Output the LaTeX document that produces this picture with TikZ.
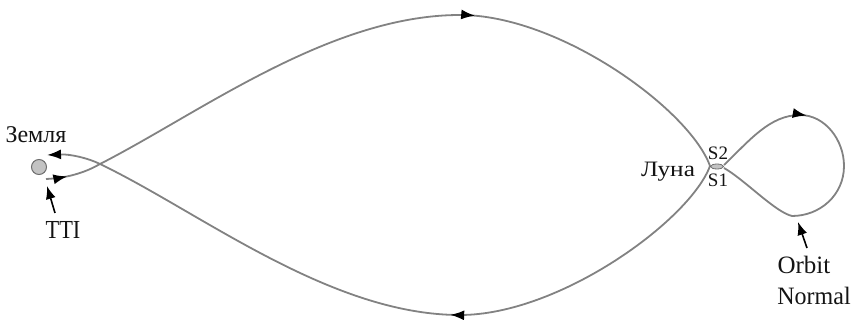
\documentclass[tikz,border=0pt]{standalone}
\usepackage{fontspec}
\setmainfont{Liberation Serif}
\usetikzlibrary{arrows.meta,decorations.markings,shapes.geometric}
\definecolor{trajgray}{RGB}{130,130,130}
\definecolor{earthfill}{RGB}{195,195,195}
\definecolor{earthdraw}{RGB}{110,110,110}
\begin{document}
\begin{tikzpicture}[x=1pt,y=-1pt,
  traj/.style={draw=trajgray,line width=1.8pt},
  midarrow/.style={postaction={decorate},decoration={markings,
     mark=at position #1 with {\arrow{Latex[length=14pt,width=10pt,color=black]}}}},
  endarrow/.style={-{Latex[length=14pt,width=10pt,color=black]}},
  pointer/.style={draw=black,line width=1.6pt,-{Latex[length=13pt,width=10pt]}},
  lbl/.style={inner sep=0pt,anchor=base,text=black!92},
  bigf/.style={font=\fontsize{25}{27}\selectfont},
  midf/.style={font=\fontsize{22}{24}\selectfont},
  smallf/.style={font=\fontsize{19}{21}\selectfont}
]
\useasboundingbox (0,0) rectangle (851,320);

% key points
\coordinate (EL) at (46,179);
\coordinate (EU) at (47,155);
\coordinate (XE) at (100,164);
\coordinate (T) at (460,15);
\coordinate (B) at (460,315);
\coordinate (ML) at (710,166);
\coordinate (MR) at (724,165);
\coordinate (MR2) at (724,168);
\coordinate (LT) at (800,115);
\coordinate (LR) at (844,166);
\coordinate (LB) at (792,216);

% outbound
\draw[traj,midarrow=0.38] (EL) .. controls (70,178) and (88,171) .. (XE);
\draw[traj] (XE) .. controls (200,113) and (330,15) .. (T);
\draw[traj,midarrow=0.05] (T) .. controls (560,15) and (690,110) .. (ML);
% return
\draw[traj] (ML) .. controls (690,220) and (560,315) .. (B);
\draw[traj,midarrow=0.025] (B) .. controls (330,315) and (200,212) .. (XE);
\draw[traj,endarrow] (XE) .. controls (88,158) and (70,154) .. (EU);

% lunar orbit loop
\draw[traj] (MR) .. controls (750,140) and (770,115) .. (LT);
\draw[traj,midarrow=0.09] (LT) .. controls (825,115) and (844,140) .. (LR);
\draw[traj] (LR) .. controls (844,195) and (820,216) .. (LB);
\draw[traj] (LB) .. controls (775,212) and (745,180) .. (MR2);

% bodies
\node[circle,fill=earthfill,draw=earthdraw,line width=1pt,minimum size=15pt,inner sep=0pt] (E) at (39,167) {};
\node[ellipse,fill=earthfill,draw=earthdraw,line width=0.8pt,minimum width=13pt,minimum height=5pt,inner sep=0pt] (Mo) at (717,166.5) {};

% labels
\node[lbl,font=\fontsize{24}{26}\selectfont] (zemlya) at (36,143) {Земля};
\node[lbl,font=\fontsize{26}{28}\selectfont] (tti) at (63,239) {\scalebox{0.86}[1]{TTI}};
\node[lbl,midf] (luna) at (668,177) {\scalebox{1.15}[1]{Луна}};
\node[lbl,smallf] (s2) at (718,160) {S2};
\node[lbl,smallf] (s1) at (718,187) {S1};
\node[lbl,bigf] (orbit) at (804,273) {Orbit};
\node[lbl,bigf] (normal) at (814,305) {\scalebox{0.96}[1]{Normal}};

% pointers
\coordinate (ttitail) at (55,213);
\coordinate (ttitip) at (47,186);
\draw[pointer] (ttitail) -- (ttitip);
\coordinate (ontail) at (807,248);
\coordinate (ontip) at (798,222);
\draw[pointer] (ontail) -- (ontip);
\end{tikzpicture}
\end{document}
